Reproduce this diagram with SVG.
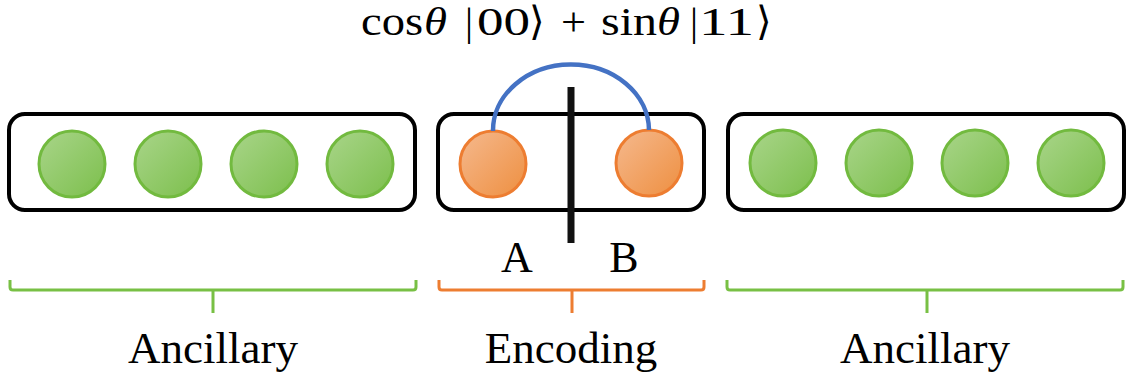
<svg xmlns="http://www.w3.org/2000/svg" width="1127" height="379" viewBox="0 0 1127 379">
  <defs>
    <linearGradient id="gradGreen" x1="0" y1="0" x2="1" y2="1">
      <stop offset="0" stop-color="#A9D58A"/>
      <stop offset="1" stop-color="#7CBF4C"/>
    </linearGradient>
    <linearGradient id="gradOrange" x1="0" y1="0" x2="1" y2="1">
      <stop offset="0" stop-color="#F5B98E"/>
      <stop offset="1" stop-color="#EE8F40"/>
    </linearGradient>
    <style>
      .box { fill: #FFFFFF; stroke: #000000; stroke-width: 4; }
      .qg { fill: url(#gradGreen); stroke: #72BA3F; stroke-width: 3; }
      .qo { fill: url(#gradOrange); stroke: #ED7D31; stroke-width: 3; }
      .brace-g { fill: none; stroke: #78C044; stroke-width: 3; stroke-linejoin: round; }
      .brace-o { fill: none; stroke: #ED7D31; stroke-width: 3; stroke-linejoin: round; }
      .lbl { font-family: "Liberation Serif", "Times New Roman", serif; fill: #000000; text-anchor: middle; }
      .eq { font-family: "Liberation Serif", "DejaVu Serif", serif; font-size: 40px; fill: #000000; }
    </style>
  </defs>

  <!-- state formula: cos(theta)|00> + sin(theta)|11> -->
  <g id="formula">
    <text class="eq" x="361" y="35" textLength="62" lengthAdjust="spacingAndGlyphs">cos</text>
    <text class="eq" x="424" y="35" font-style="italic" textLength="23" lengthAdjust="spacingAndGlyphs">θ</text>
    <text class="eq" x="465" y="35">|</text>
    <text class="eq" x="477" y="35" textLength="53" lengthAdjust="spacingAndGlyphs">00</text>
    <text class="eq" x="529" y="35">⟩</text>
    <text class="eq" x="561" y="35" textLength="25" lengthAdjust="spacingAndGlyphs">+</text>
    <text class="eq" x="601" y="35" textLength="56" lengthAdjust="spacingAndGlyphs">sin</text>
    <text class="eq" x="657" y="35" font-style="italic" textLength="23" lengthAdjust="spacingAndGlyphs">θ</text>
    <text class="eq" x="690" y="35">|</text>
    <text class="eq" x="699" y="35" textLength="55" lengthAdjust="spacingAndGlyphs">11</text>
    <text class="eq" x="756" y="35">⟩</text>
  </g>

  <!-- left ancillary register -->
  <g id="ancillary-left">
    <rect class="box" x="9" y="114" width="406" height="96" rx="16"/>
    <circle class="qg" cx="72" cy="164" r="33"/>
    <circle class="qg" cx="168" cy="164" r="33"/>
    <circle class="qg" cx="264" cy="164" r="33"/>
    <circle class="qg" cx="360" cy="164" r="33"/>
  </g>

  <!-- encoding pair -->
  <g id="encoding">
    <rect class="box" x="438" y="114" width="266" height="96" rx="16"/>
    <circle class="qo" cx="493" cy="164" r="33"/>
    <circle class="qo" cx="649" cy="163" r="33"/>
  </g>

  <!-- right ancillary register -->
  <g id="ancillary-right">
    <rect class="box" x="728" y="114" width="396" height="96" rx="16"/>
    <circle class="qg" cx="783" cy="163" r="33"/>
    <circle class="qg" cx="879" cy="163" r="33"/>
    <circle class="qg" cx="975" cy="163" r="33"/>
    <circle class="qg" cx="1071" cy="163" r="33"/>
  </g>

  <!-- entanglement link and bipartition cut -->
  <g id="connectors">
    <path d="M493,131 A78,66 0 0 1 649,130" fill="none" stroke="#4472C4" stroke-width="4.5"/>
    <line x1="571" y1="87" x2="571" y2="243" stroke="#111111" stroke-width="7"/>
  </g>

  <!-- subsystem labels -->
  <text class="lbl" x="517" y="272" font-size="44">A</text>
  <text class="lbl" x="624" y="272" font-size="44">B</text>

  <!-- grouping braces -->
  <g id="brace-left">
    <path class="brace-g" d="M10,280 V287 Q10,290 13,290 H413 Q416,290 416,287 V280 M213,290 V313"/>
    <text class="lbl" x="213" y="363" font-size="45">Ancillary</text>
  </g>
  <g id="brace-mid">
    <path class="brace-o" d="M439,280 V287 Q439,290 442,290 H701 Q704,290 704,287 V280 M572,290 V313"/>
    <text class="lbl" x="571" y="363" font-size="45">Encoding</text>
  </g>
  <g id="brace-right">
    <path class="brace-g" d="M727,280 V287 Q727,290 730,290 H1120 Q1123,290 1123,287 V280 M927,290 V313"/>
    <text class="lbl" x="925" y="363" font-size="45">Ancillary</text>
  </g>
</svg>
